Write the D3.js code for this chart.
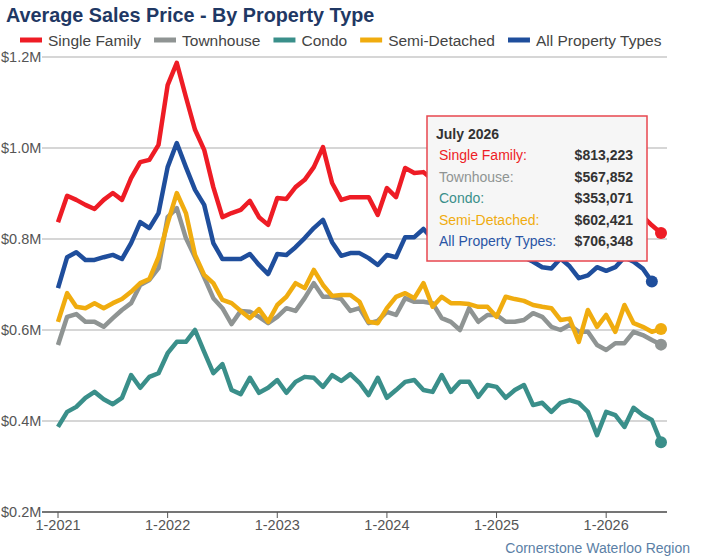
<!DOCTYPE html>
<html><head><meta charset="utf-8">
<script src="https://cdn.jsdelivr.net/npm/d3@7/dist/d3.min.js"></script>
<style>body{margin:0;background:#fff;font-family:Arial,"Liberation Sans",sans-serif}</style>
</head><body><svg id="c" width="702" height="557"></svg>
<script>
const seriesNames = ["Single Family","Townhouse","Condo","Semi-Detached","All Property Types"];
const colors = ["#ee1c25","#8f9493","#3a8f8a","#f0ac0f","#1f4e9c"];
const xTickLabels = ["1-2021","1-2022","1-2023","1-2024","1-2025","1-2026"];
const yTicks = [0.2,0.4,0.6,0.8,1.0,1.2];
const singleFamily = [0.837,0.895,0.886,0.875,0.866,0.886,0.901,0.886,0.934,0.969,0.974,1.007,1.138,1.187,1.112,1.040,0.996,0.914,0.848,0.857,0.864,0.884,0.848,0.831,0.890,0.888,0.914,0.930,0.958,1.002,0.923,0.886,0.892,0.892,0.892,0.853,0.912,0.892,0.956,0.945,0.947,0.93,0.92,0.94,0.91,0.92,0.90,0.89,0.91,0.90,0.88,0.87,0.86,0.88,0.87,0.86,0.88,0.87,0.85,0.86,0.87,0.86,0.88,0.87,0.85,0.83,0.813223];
const townhouse = [0.567,0.629,0.635,0.618,0.618,0.607,0.626,0.644,0.659,0.699,0.710,0.736,0.848,0.868,0.802,0.760,0.716,0.670,0.648,0.613,0.642,0.640,0.629,0.615,0.629,0.648,0.642,0.670,0.703,0.673,0.673,0.668,0.642,0.648,0.615,0.620,0.640,0.633,0.670,0.662,0.662,0.659,0.626,0.618,0.600,0.648,0.618,0.633,0.633,0.618,0.618,0.622,0.637,0.629,0.607,0.600,0.611,0.596,0.596,0.567,0.556,0.571,0.571,0.596,0.589,0.578,0.567852];
const condo = [0.387,0.420,0.431,0.451,0.464,0.448,0.437,0.451,0.501,0.473,0.497,0.505,0.549,0.574,0.574,0.600,0.552,0.505,0.525,0.468,0.459,0.495,0.462,0.473,0.490,0.462,0.486,0.497,0.495,0.475,0.501,0.488,0.503,0.484,0.457,0.495,0.451,0.468,0.486,0.490,0.468,0.464,0.501,0.464,0.486,0.486,0.453,0.479,0.475,0.451,0.468,0.479,0.435,0.440,0.420,0.440,0.446,0.440,0.420,0.369,0.420,0.413,0.387,0.429,0.413,0.402,0.353071];
const semiDetached = [0.618,0.681,0.651,0.648,0.659,0.648,0.659,0.668,0.684,0.703,0.712,0.760,0.835,0.901,0.857,0.765,0.721,0.703,0.666,0.659,0.642,0.626,0.646,0.618,0.655,0.673,0.703,0.692,0.732,0.699,0.675,0.677,0.677,0.662,0.618,0.615,0.648,0.673,0.681,0.670,0.703,0.651,0.673,0.659,0.659,0.657,0.651,0.651,0.629,0.673,0.668,0.664,0.655,0.651,0.648,0.622,0.625,0.574,0.644,0.607,0.633,0.596,0.655,0.615,0.607,0.596,0.602421];
const allTypes = [0.692,0.760,0.771,0.754,0.754,0.760,0.765,0.756,0.791,0.837,0.824,0.857,0.958,1.011,0.958,0.908,0.875,0.791,0.756,0.756,0.756,0.767,0.743,0.723,0.767,0.765,0.782,0.802,0.824,0.842,0.793,0.763,0.769,0.769,0.758,0.743,0.765,0.760,0.804,0.804,0.822,0.80,0.79,0.80,0.81,0.80,0.79,0.78,0.79,0.78,0.77,0.76,0.75,0.738,0.735,0.757,0.74,0.714,0.72,0.738,0.730,0.738,0.76,0.75,0.735,0.706348];
const tooltipTitle = "July 2026";
const allSeries = [singleFamily,townhouse,condo,semiDetached,allTypes];

const svg = d3.select("#c");
const x = d3.scaleLinear().domain([0,66]).range([58,661]);
const y = d3.scaleLinear().domain([0.2,1.2]).range([512,57]);

svg.append("text").attr("x",6).attr("y",22).attr("font-size",19.8).attr("font-weight","bold").attr("fill","#1f3864").text("Average Sales Price - By Property Type");

let lx = 20;
const lg = svg.append("g");
seriesNames.forEach((n,i)=>{
  lg.append("line").attr("x1",lx).attr("x2",lx+22).attr("y1",40).attr("y2",40).attr("stroke",colors[i]).attr("stroke-width",5);
  const t = lg.append("text").attr("x",lx+28).attr("y",45.5).attr("font-size",15.5).attr("fill","#444").text(n);
  lx += 28 + t.node().getComputedTextLength() + 13;
});

svg.append("g").selectAll("line").data(yTicks).join("line")
  .attr("x1",42).attr("x2",667).attr("y1",d=>y(d)).attr("y2",d=>y(d))
  .attr("stroke","#c8c8c8").attr("stroke-width",1.5);
svg.append("g").selectAll("text").data(yTicks).join("text")
  .attr("x",1).attr("y",d=>y(d)+5).attr("font-size",14.5).attr("fill","#555")
  .text(d=>"$"+d.toFixed(1)+"M");

svg.append("line").attr("x1",42).attr("x2",667).attr("y1",512).attr("y2",512).attr("stroke","#555").attr("stroke-width",1.5);
const xt = xTickLabels.map((l,i)=>({l,m:i*12}));
svg.append("g").selectAll("line").data(xt).join("line")
  .attr("x1",d=>x(d.m)).attr("x2",d=>x(d.m)).attr("y1",512).attr("y2",518).attr("stroke","#555");
svg.append("g").selectAll("text").data(xt).join("text")
  .attr("x",d=>x(d.m)).attr("y",530).attr("text-anchor","middle").attr("font-size",14.5).attr("fill","#555").text(d=>d.l);

const line = d3.line().x((d,i)=>x(i)).y(d=>y(d));
allSeries.forEach((s,i)=>{
  svg.append("path").datum(s).attr("d",line).attr("fill","none").attr("stroke",colors[i]).attr("stroke-width",4.5).attr("stroke-linejoin","round");
});
allSeries.forEach((s,i)=>{
  svg.append("circle").attr("cx",x(s.length-1)).attr("cy",y(s[s.length-1])).attr("r",6).attr("fill",colors[i]);
});

const tg = svg.append("g").attr("transform","translate(427,116)");
tg.append("rect").attr("width",220).attr("height",145).attr("fill","#f6f6f6").attr("stroke","#e8474f").attr("stroke-width",1.5);
tg.append("text").attr("x",9).attr("y",23).attr("font-size",14).attr("font-weight","bold").attr("fill","#333").text(tooltipTitle);
allSeries.forEach((s,i)=>{
  const yy = 44 + i*21.5;
  tg.append("text").attr("x",12).attr("y",yy).attr("font-size",14).attr("fill",colors[i]==="#1f4e9c"?"#2a55a5":colors[i]).text(seriesNames[i]+":");
  tg.append("text").attr("x",206).attr("y",yy).attr("text-anchor","end").attr("font-size",14).attr("font-weight","bold").attr("fill","#333")
    .text(d3.format("$,.0f")(Math.round(s[s.length-1]*1e6)));
});

svg.append("text").attr("x",690).attr("y",553).attr("text-anchor","end").attr("font-size",14).attr("fill","#5b7fa6").text("Cornerstone Waterloo Region");
</script></body></html>
